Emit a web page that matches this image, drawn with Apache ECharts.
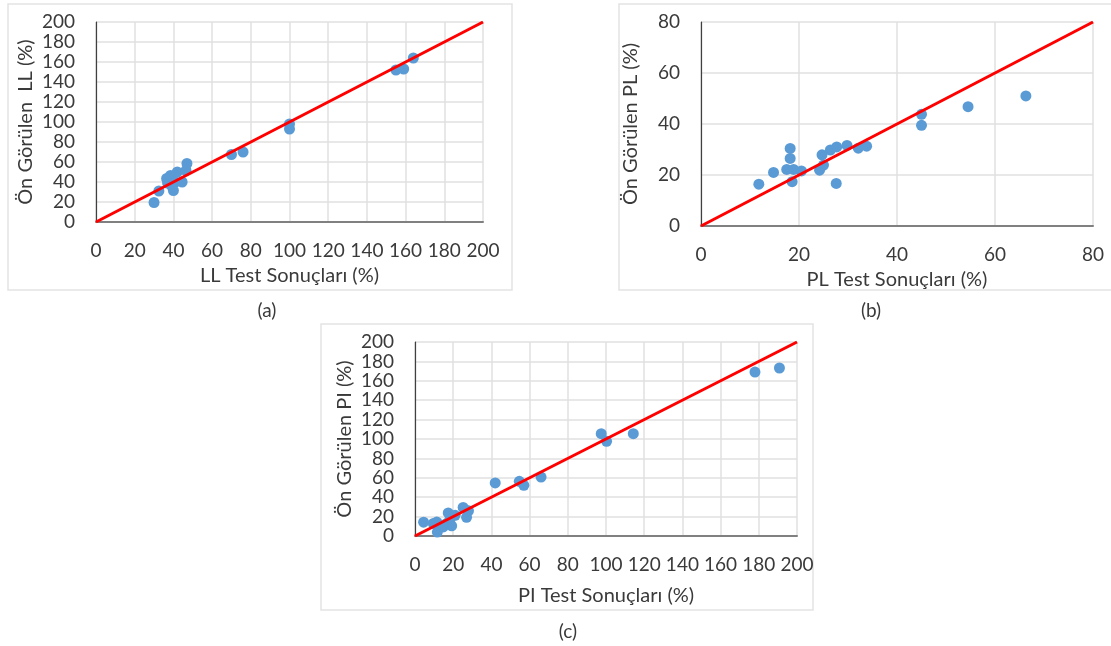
<!DOCTYPE html>
<html>
<head>
<meta charset="utf-8">
<script src="https://cdn.jsdelivr.net/npm/echarts@6/dist/echarts.min.js"></script>
<style>
  html, body { margin: 0; padding: 0; background: #fff; }
  #chart { width: 1111px; height: 646px; }
</style>
</head>
<body>
<div id="chart"></div>
<script>
// (a) liquid limit
const llTest = [30, 32.5, 36.5, 37, 38.5, 39, 40, 41, 42, 44.5, 46.5, 47, 70, 76, 100, 100, 155, 159, 164];
const llPred = [19.5, 31, 43.5, 39, 46.5, 36.5, 31.5, 40, 50, 40, 51.5, 58.5, 67.5, 70, 98, 93, 152, 153, 164];
// (b) plastic limit
const plTest = [11.8, 14.8, 17.5, 18.2, 18.2, 18.6, 18.9, 20.5, 24.2, 25, 24.7, 26.4, 27.7, 27.6, 29.8, 32.1, 33.8, 45, 45, 54.5, 66.3];
const plPred = [16.4, 21, 22.2, 30.4, 26.5, 17.4, 22.2, 21.6, 21.9, 23.9, 27.9, 29.8, 31, 16.7, 31.6, 30.5, 31.3, 43.8, 39.5, 46.8, 51];
// (c) plasticity index
const piTest = [4.5, 9.6, 11.4, 11.7, 14, 14.8, 16.6, 17.4, 18.3, 19.2, 21, 25.2, 27, 28, 42, 54.6, 57, 66, 97.5, 100.3, 114.3, 178, 190.8];
const piPred = [14.2, 13, 14.4, 4.1, 11, 9.3, 13, 23.8, 17, 10.5, 21.3, 29.5, 19.3, 26, 54.7, 56.4, 52.3, 60.8, 105.5, 97.6, 105.5, 169, 173.2];

// 1:1 lines
const lineA = [[0, 0], [200, 200]];
const lineB = [[0, 0], [80, 80]];
const lineC = [[0, 0], [200, 200]];

const xNames = ['LL Test Sonuçları (%)', 'PL Test Sonuçları (%)', 'PI Test Sonuçları (%)'];
const yNames = ['Ön Görülen  LL (%)', 'Ön Görülen PL (%)', 'Ön Görülen PI (%)'];
const axisMax = [200, 80, 200];
const panelTags = ['(a)', '(b)', '(c)'];

const FONT = 'Lato';
const TXT = '#3a3a3a';

const zip = (a, b) => a.map((v, i) => [v, b[i]]);

const grids = [
  { left: 96, top: 22, width: 387, height: 200 },
  { left: 701, top: 22, width: 392, height: 204 },
  { left: 415, top: 342, width: 382, height: 194 }
];

const xAxes = grids.map((g, i) => ({
  gridIndex: i, type: 'value', min: 0, max: axisMax[i], interval: 20,
  name: xNames[i], nameLocation: 'middle', nameGap: i === 2 ? 50 : 44,
  nameTextStyle: { fontFamily: FONT, fontSize: 20, color: TXT },
  axisLine: { show: true, lineStyle: { color: '#808080', width: 2 } },
  axisTick: { show: false },
  axisLabel: { fontFamily: FONT, fontSize: 19, color: TXT, margin: 19 },
  splitLine: { show: true, lineStyle: { color: '#e0e0e0', width: 1.5 } }
}));

const yAxes = grids.map((g, i) => ({
  gridIndex: i, type: 'value', min: 0, max: axisMax[i], interval: 20,
  name: yNames[i], nameLocation: 'middle', nameGap: 60,
  nameTextStyle: { fontFamily: FONT, fontSize: 20, color: TXT },
  axisLine: { show: true, lineStyle: { color: '#404040', width: 1.2 } },
  axisTick: { show: false },
  axisLabel: { fontFamily: FONT, fontSize: 19, color: TXT, margin: 21 },
  splitLine: { show: true, lineStyle: { color: '#e0e0e0', width: 1.5 } }
}));

const scatter = (i, data) => ({
  type: 'scatter', xAxisIndex: i, yAxisIndex: i, data: data,
  symbolSize: 11, itemStyle: { color: '#5b9bd5', opacity: 1 }, z: 3
});
const fitLine = (i, data) => ({
  type: 'line', xAxisIndex: i, yAxisIndex: i, data: data,
  showSymbol: false, lineStyle: { color: '#ff0000', width: 3 }, z: 4, silent: true
});

const boxes = [
  { x: 8, y: 4, w: 504, h: 286 },
  { x: 619, y: 4, w: 500, h: 286 },
  { x: 321, y: 324, w: 492, h: 286 }
];
const tagPos = [[267, 311], [871, 311], [568, 632]];

const graphic = boxes.map(b => ({
  type: 'rect', shape: { x: b.x, y: b.y, width: b.w, height: b.h },
  style: { fill: 'none', stroke: '#e3e3e3', lineWidth: 1.5 }, z: -1
})).concat(panelTags.map((t, i) => ({
  type: 'text', x: tagPos[i][0], y: tagPos[i][1],
  style: { text: t, font: '19px ' + FONT, fill: TXT, align: 'center', verticalAlign: 'middle' }
})));

const chart = echarts.init(document.getElementById('chart'));
chart.setOption({
  animation: false,
  grid: grids,
  xAxis: xAxes,
  yAxis: yAxes,
  graphic: graphic,
  series: [
    scatter(0, zip(llTest, llPred)),
    fitLine(0, lineA),
    scatter(1, zip(plTest, plPred)),
    fitLine(1, lineB),
    scatter(2, zip(piTest, piPred)),
    fitLine(2, lineC)
  ]
});
</script>
</body>
</html>
